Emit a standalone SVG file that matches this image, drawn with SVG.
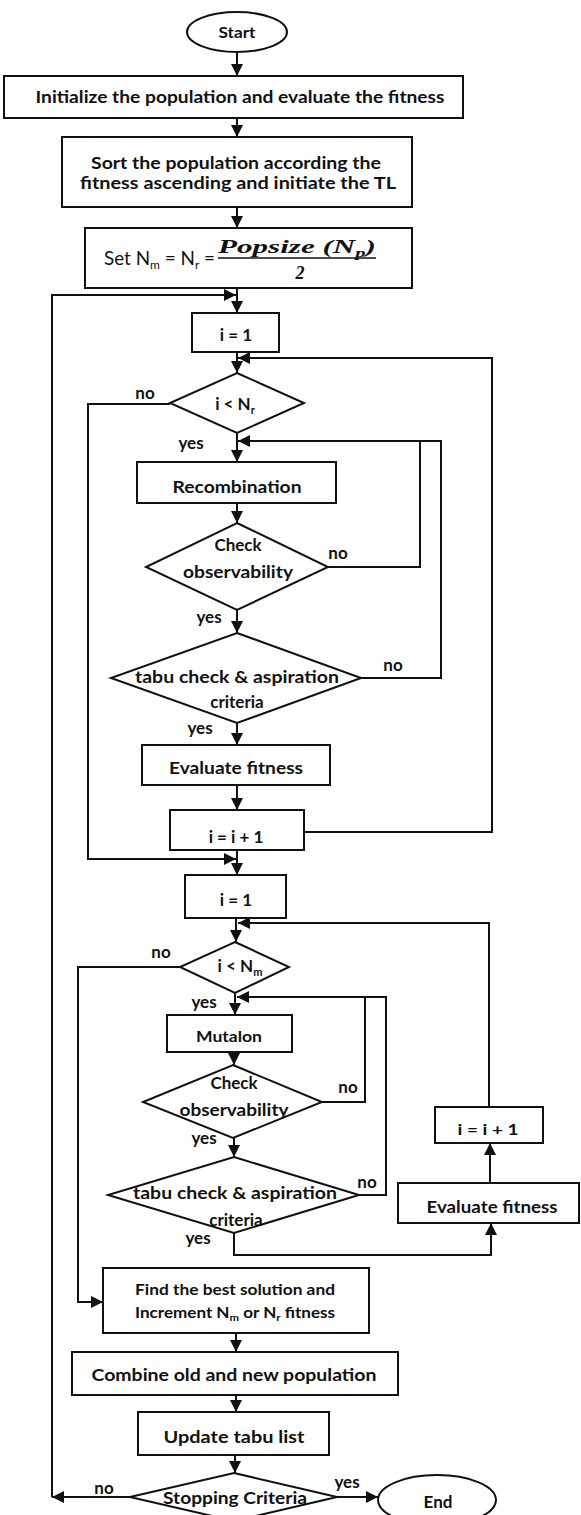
<svg xmlns="http://www.w3.org/2000/svg" width="581" height="1515" viewBox="0 0 581 1515">
<style>
.s{fill:#fff;stroke:#111;stroke-width:2}
.c{fill:none;stroke:#111;stroke-width:2}
text{font-family:Lato,"Open Sans","Liberation Sans",sans-serif;font-weight:bold;fill:#111;text-anchor:middle}
.t{font-size:17px}
.m{font-size:15px}
.l{font-size:17px}
.f{font-family:"Liberation Serif","DejaVu Serif",serif;font-style:italic;font-weight:bold;font-size:18px}
</style>
<defs>
<marker id="a" markerUnits="userSpaceOnUse" markerWidth="12" markerHeight="12" refX="12" refY="6" orient="auto"><path d="M0,0 L12,6 L0,12 z" fill="#111"/></marker>
</defs>
<g id="connectors" class="c">
<line x1="237" y1="52" x2="237" y2="76" marker-end="url(#a)"/>
<line x1="237" y1="118" x2="237" y2="137" marker-end="url(#a)"/>
<line x1="237" y1="207" x2="237" y2="228" marker-end="url(#a)"/>
<line x1="237" y1="288" x2="237" y2="313" marker-end="url(#a)"/>
<path d="M130,1497 H52" marker-end="url(#a)"/>
<path d="M52,1497 V295 H236" marker-end="url(#a)"/>
<line x1="237" y1="352" x2="237" y2="373" marker-end="url(#a)"/>
<path d="M170,404 H88 V859 H236" marker-end="url(#a)"/>
<line x1="237" y1="433" x2="237" y2="462" marker-end="url(#a)"/>
<line x1="237" y1="503" x2="237" y2="523" marker-end="url(#a)"/>
<path d="M328,567 H420 V441"/>
<path d="M361,678 H441 V441 H238" marker-end="url(#a)"/>
<line x1="237" y1="610" x2="237" y2="633" marker-end="url(#a)"/>
<line x1="237" y1="723" x2="237" y2="745" marker-end="url(#a)"/>
<line x1="237" y1="785" x2="237" y2="810" marker-end="url(#a)"/>
<path d="M304,832 H492 V358 H238" marker-end="url(#a)"/>
<line x1="237" y1="850" x2="237" y2="875" marker-end="url(#a)"/>
<line x1="236" y1="918" x2="236" y2="942" marker-end="url(#a)"/>
<path d="M489,1107 V923 H238" marker-end="url(#a)"/>
<path d="M180,967 H78 V1302 H103" marker-end="url(#a)"/>
<line x1="235" y1="993" x2="235" y2="1015" marker-end="url(#a)"/>
<line x1="234" y1="1052" x2="234" y2="1065" marker-end="url(#a)"/>
<path d="M322,1102 H365 V997"/>
<path d="M359,1195 H386 V997 H237" marker-end="url(#a)"/>
<line x1="234" y1="1138" x2="234" y2="1157" marker-end="url(#a)"/>
<path d="M234,1233 V1255 H491 V1223" marker-end="url(#a)"/>
<line x1="490" y1="1183" x2="490" y2="1143" marker-end="url(#a)"/>
<line x1="236" y1="1333" x2="236" y2="1352" marker-end="url(#a)"/>
<line x1="236" y1="1395" x2="236" y2="1412" marker-end="url(#a)"/>
<line x1="235" y1="1455" x2="235" y2="1473" marker-end="url(#a)"/>
<line x1="337" y1="1497" x2="378" y2="1497" marker-end="url(#a)"/>
</g>
<g id="labels">
<text x="145" y="399" class="l">no</text>
<text x="191" y="449" class="l">yes</text>
<text x="338" y="559" class="l">no</text>
<text x="209" y="623" class="l">yes</text>
<text x="393" y="671" class="l">no</text>
<text x="200" y="734" class="l">yes</text>
<text x="161" y="958" class="l">no</text>
<text x="204" y="1008" class="l">yes</text>
<text x="348" y="1093" class="l">no</text>
<text x="204" y="1144" class="l">yes</text>
<text x="367" y="1188" class="l">no</text>
<text x="198" y="1244" class="l">yes</text>
<text x="104" y="1494" class="l">no</text>
<text x="347" y="1488" class="l">yes</text>
</g>
<g id="start"><ellipse class="s" cx="237" cy="32" rx="50" ry="20"/><text x="237" y="38" class="m" textLength="37" lengthAdjust="spacingAndGlyphs">Start</text></g>
<g id="init"><rect class="s" x="4" y="76" width="459" height="42"/><text x="240" y="103" class="t" textLength="409" lengthAdjust="spacingAndGlyphs">Initialize the population and evaluate the fitness</text></g>
<g id="sort"><rect class="s" x="62" y="137" width="350" height="70"/><text x="236" y="169" class="t" textLength="290" lengthAdjust="spacingAndGlyphs">Sort the population according the</text><text x="238" y="189" class="t" textLength="316" lengthAdjust="spacingAndGlyphs">fitness ascending and initiate the TL</text></g>
<g id="set"><rect class="s" x="85" y="228" width="327" height="60"/>
<text x="104" y="265" style="text-anchor:start;font-size:19px;font-weight:normal" textLength="111" lengthAdjust="spacingAndGlyphs">Set N<tspan font-size="12" dy="4">m</tspan><tspan dy="-4"> = N</tspan><tspan font-size="12" dy="4">r</tspan><tspan dy="-4"> =</tspan></text>
<text x="218" y="253" class="f" style="text-anchor:start" textLength="158" lengthAdjust="spacingAndGlyphs">Popsize  (N<tspan font-size="12" dy="4">p</tspan><tspan dy="-4">)</tspan></text>
<line x1="218" y1="258" x2="376" y2="258" stroke="#111" stroke-width="1.5"/>
<text x="300" y="279" class="f">2</text></g>
<g id="i1a"><rect class="s" x="192" y="313" width="87" height="39"/><text x="236" y="341" class="t">i = 1</text></g>
<g id="d1"><polygon class="s" points="237,373 304,403 237,433 170,403"/><text x="235" y="410" class="t">i &lt; N<tspan font-size="11" dy="4">r</tspan></text></g>
<g id="recomb"><rect class="s" x="137" y="462" width="199" height="41"/><text x="237" y="493" class="t" textLength="129" lengthAdjust="spacingAndGlyphs">Recombination</text></g>
<g id="chk1"><polygon class="s" points="237,523 328,567 237,610 146,567"/><text x="238" y="551" class="t">Check</text><text x="238" y="578" class="t" textLength="110" lengthAdjust="spacingAndGlyphs">observability</text></g>
<g id="tabu1"><polygon class="s" points="237,633 361,678 237,723 111,678"/><text x="237" y="683" class="t" textLength="204" lengthAdjust="spacingAndGlyphs">tabu check &amp; aspiration</text><text x="237" y="708" class="t">criteria</text></g>
<g id="eval1"><rect class="s" x="142" y="745" width="188" height="40"/><text x="236" y="774" class="t" textLength="134" lengthAdjust="spacingAndGlyphs">Evaluate fitness</text></g>
<g id="inc1"><rect class="s" x="170" y="810" width="134" height="40"/><text x="236" y="843" class="t">i = i + 1</text></g>
<g id="i1b"><rect class="s" x="185" y="875" width="101" height="43"/><text x="236" y="906" class="t">i = 1</text></g>
<g id="d2"><polygon class="s" points="235,942 289,967 235,993 180,967"/><text x="240" y="972" class="t">i &lt; N<tspan font-size="11" dy="4">m</tspan></text></g>
<g id="mut"><rect class="s" x="167" y="1015" width="125" height="37"/><text x="229" y="1042" class="m" textLength="66" lengthAdjust="spacingAndGlyphs">Mutalon</text></g>
<g id="chk2"><polygon class="s" points="233,1065 322,1102 233,1138 143,1102"/><text x="234" y="1089" class="t">Check</text><text x="234" y="1116" class="t" textLength="109" lengthAdjust="spacingAndGlyphs">observability</text></g>
<g id="tabu2"><polygon class="s" points="234,1157 359,1195 234,1233 108,1195"/><text x="235" y="1199" class="t" textLength="204" lengthAdjust="spacingAndGlyphs">tabu check &amp; aspiration</text><text x="236" y="1226" class="t">criteria</text></g>
<g id="eval2"><rect class="s" x="398" y="1183" width="181" height="40"/><text x="492" y="1213" class="t" textLength="131" lengthAdjust="spacingAndGlyphs">Evaluate fitness</text></g>
<g id="inc2"><rect class="s" x="435" y="1107" width="108" height="36"/><text x="488" y="1135" class="m" textLength="61" lengthAdjust="spacingAndGlyphs">i = i + 1</text></g>
<g id="find"><rect class="s" x="103" y="1268" width="266" height="65"/><text x="235" y="1295" class="m" textLength="200" lengthAdjust="spacingAndGlyphs">Find the best solution and</text><text x="235" y="1318" class="m" textLength="200" lengthAdjust="spacingAndGlyphs">Increment N<tspan font-size="10" dy="3">m</tspan><tspan dy="-3"> or N</tspan><tspan font-size="10" dy="3">r</tspan><tspan dy="-3"> fitness</tspan></text></g>
<g id="combine"><rect class="s" x="72" y="1352" width="326" height="43"/><text x="234" y="1381" class="t" textLength="285" lengthAdjust="spacingAndGlyphs">Combine old and new population</text></g>
<g id="update"><rect class="s" x="138" y="1412" width="191" height="43"/><text x="234" y="1443" class="t" textLength="141" lengthAdjust="spacingAndGlyphs">Update  tabu list</text></g>
<g id="stop"><polygon class="s" points="234,1473 337,1497 234,1521 130,1497"/><text x="235" y="1504" class="t" textLength="144" lengthAdjust="spacingAndGlyphs">Stopping Criteria</text></g>
<g id="end"><ellipse class="s" cx="437" cy="1500" rx="59" ry="25"/><text x="438" y="1508" class="t">End</text></g>
</svg>
